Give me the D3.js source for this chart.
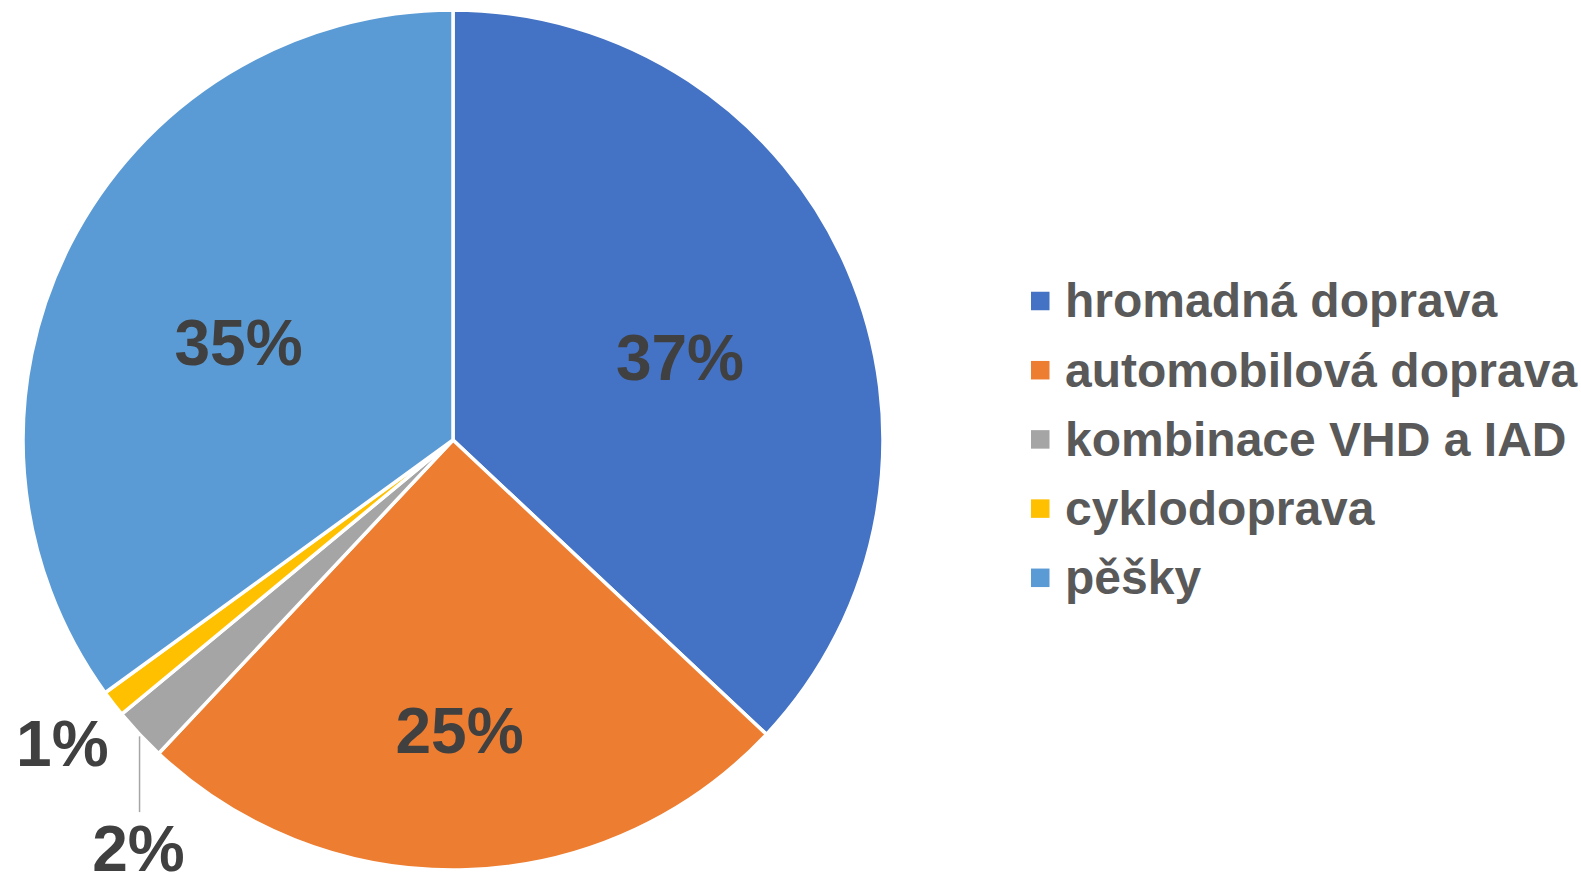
<!DOCTYPE html>
<html><head><meta charset="utf-8">
<script src="https://cdn.jsdelivr.net/npm/d3@7"></script>
<style>
html,body{margin:0;padding:0;background:#fff;overflow:hidden}
svg{display:block;font-family:"Liberation Sans",Arial,sans-serif;font-weight:bold}
</style></head><body>
<svg id="c" width="1581" height="872"></svg>
<script>
const categories = ["hromadná doprava","automobilová doprava","kombinace VHD a IAD","cyklodoprava","pěšky"];
const values = [37, 25, 2, 1, 35];
const labels = ["37%","25%","2%","1%","35%"];
const colors = ["#4472C4","#ED7D31","#A5A5A5","#FFC000","#5B9BD5"];

const svg = d3.select("#c");
const cx = 453, cy = 440, R = 430;
const g = svg.append("g").attr("transform", `translate(${cx},${cy})`);

const pie = d3.pie().sort(null).value(d => d)(values);
const arc = d3.arc().innerRadius(0).outerRadius(R);

g.selectAll("path.slice").data(pie).enter().append("path")
  .attr("class","slice")
  .attr("d", arc)
  .attr("fill", (d,i) => colors[i])
  .attr("stroke", "#fff")
  .attr("stroke-width", 3.5)
  .attr("stroke-linejoin","round");

// label placement: [angle offset (rad), radius fraction]
const labelPlace = [[0.058,0.562],[0.009,0.675],[-0.16,1.198],[0,1.15],[-0.044,0.548]];
const fs = 64;
function polar(a, r){ return [Math.sin(a)*r, -Math.cos(a)*r]; }

pie.forEach((d,i) => {
  const mid = (d.startAngle + d.endAngle)/2;
  const [ao, rf] = labelPlace[i];
  const [x,y] = polar(mid+ao, R*rf);
  g.append("text")
    .attr("x", x).attr("y", y + fs*0.36)
    .attr("text-anchor","middle")
    .attr("font-size", fs)
    .attr("fill","#404040")
    .text(labels[i]);
});

// leader line for the 2% slice
{
  const d = pie[2];
  const mid = (d.startAngle + d.endAngle)/2;
  const [x0,y0] = polar(mid, R);
  const [lx,ly] = polar(mid + labelPlace[2][0], R*labelPlace[2][1]);
  g.append("line")
    .attr("x1", x0).attr("y1", y0 + 2)
    .attr("x2", x0).attr("y2", ly - fs*0.56)
    .attr("stroke","#A6A6A6").attr("stroke-width",1.5);
}

// legend
const legX = 1031, legY0 = 301, legStep = 69.2, sq = 18.5, lfs = 48;
const leg = svg.append("g");
categories.forEach((c,i) => {
  const y = legY0 + i*legStep;
  leg.append("rect").attr("x", legX).attr("y", y - sq/2).attr("width", sq).attr("height", sq).attr("fill", colors[i]);
  leg.append("text").attr("x", legX + 34).attr("y", y + lfs*0.34)
    .attr("font-size", lfs).attr("fill","#595959").text(c);
});
</script>
</body></html>
